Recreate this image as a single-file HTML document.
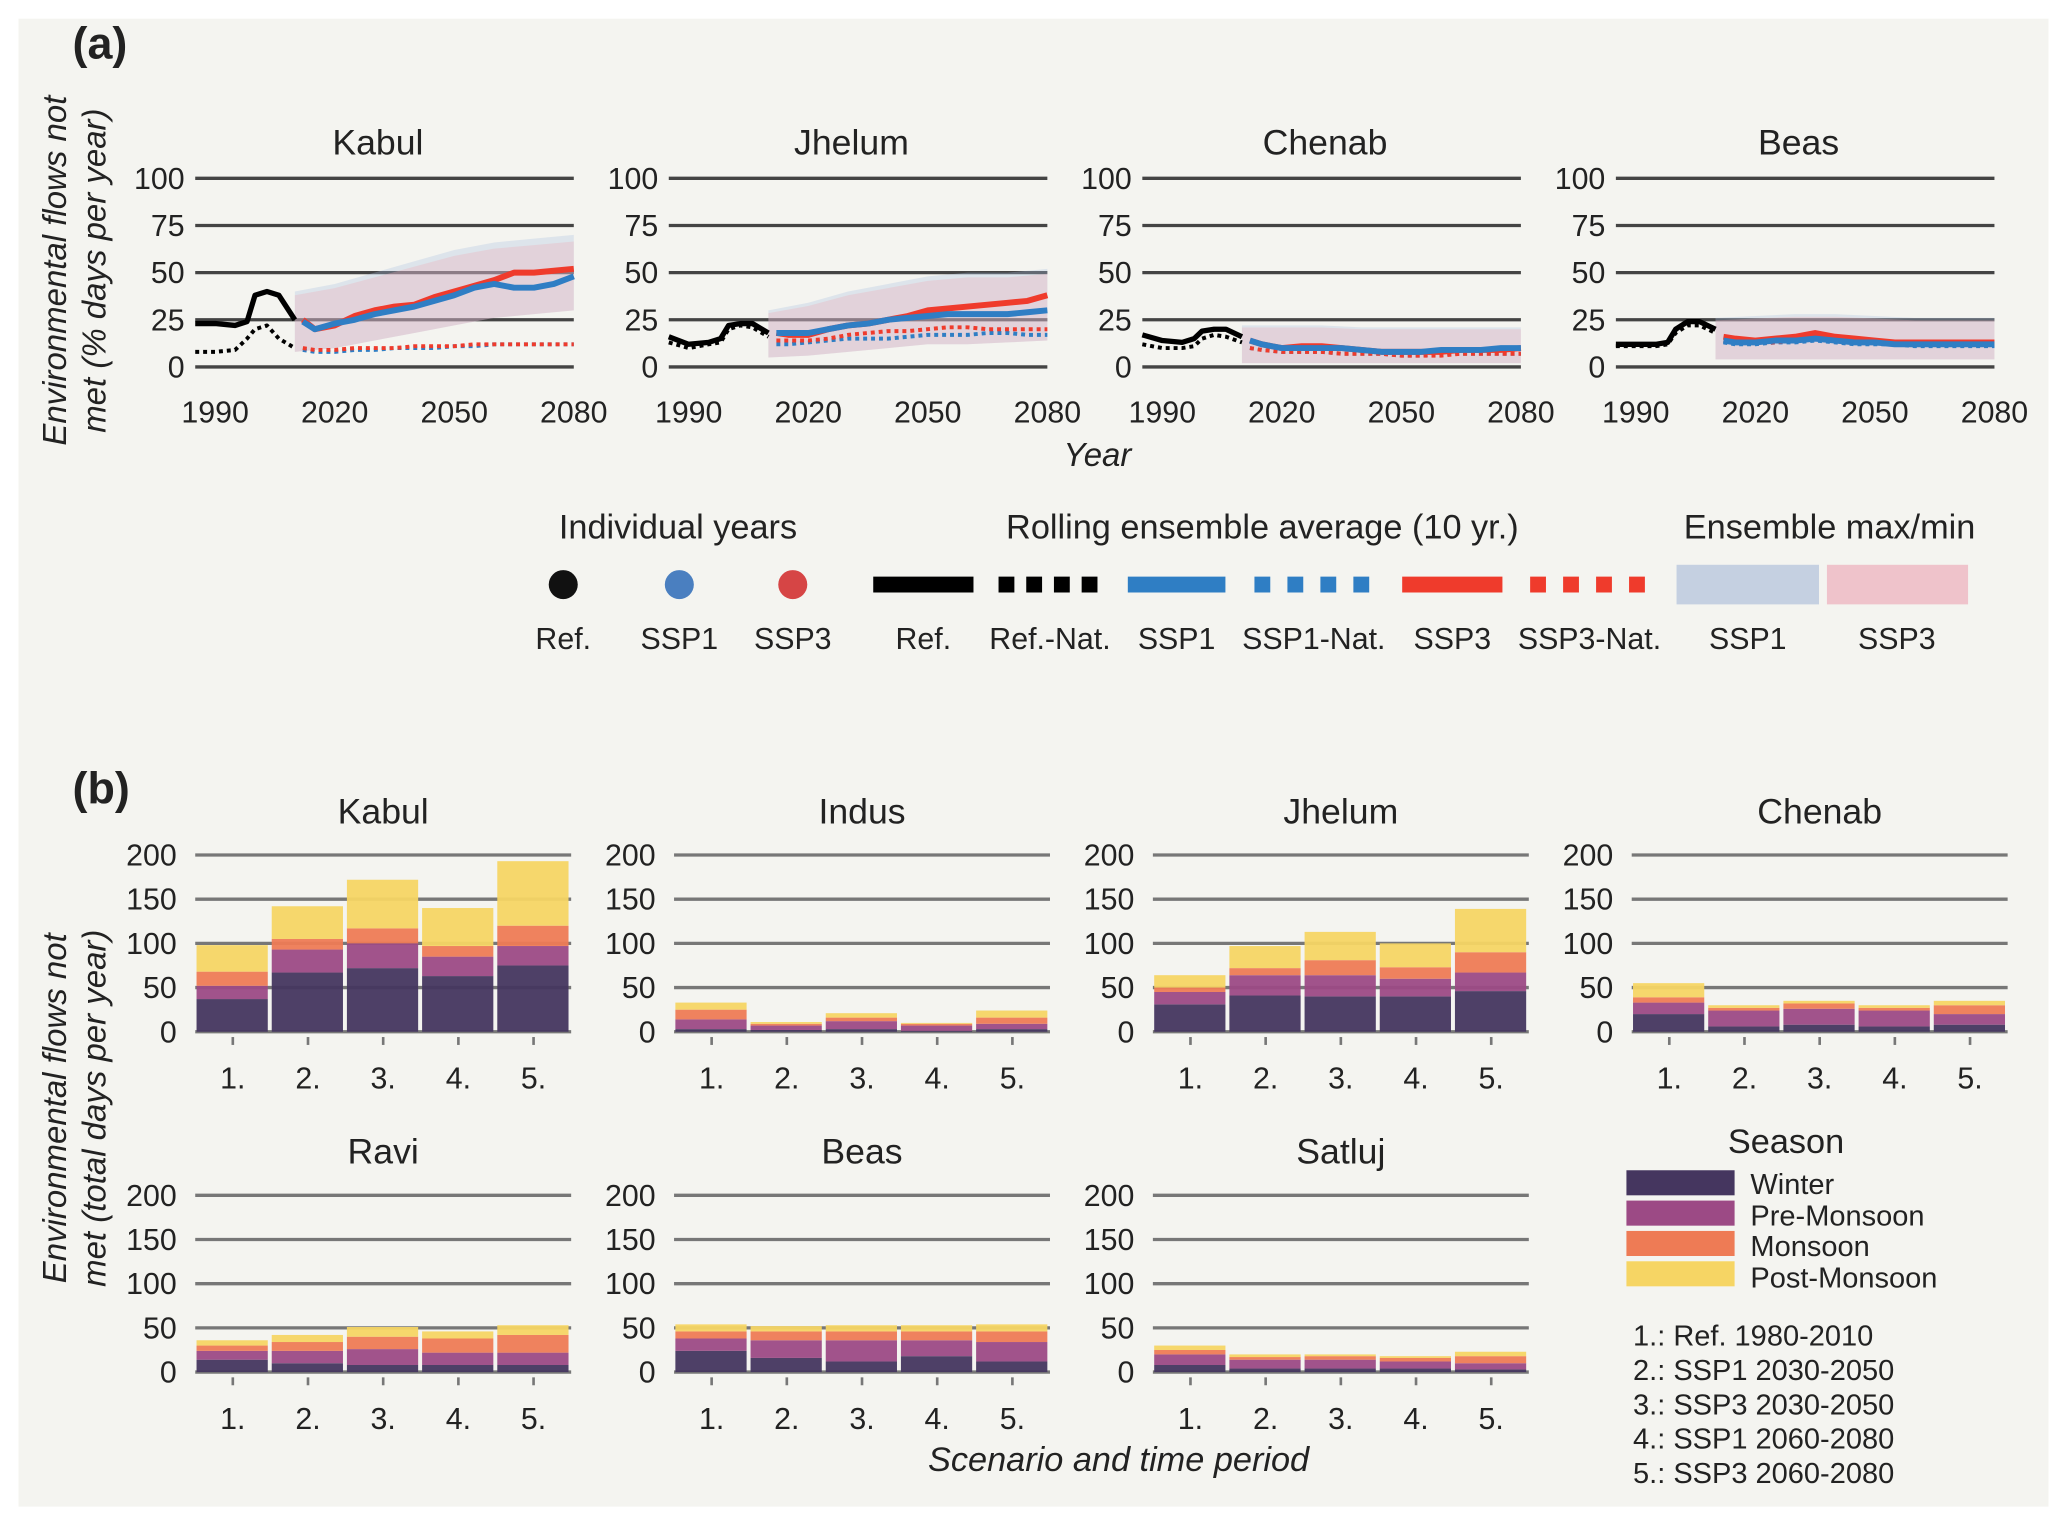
<!DOCTYPE html>
<html><head><meta charset="utf-8"><style>
html,body{margin:0;padding:0;background:#fff}
svg{display:block}
text{font-family:"Liberation Sans",sans-serif;fill:#222}
</style></head><body>
<svg id="fig" width="2067" height="1524" viewBox="0 0 1567 1155" xmlns="http://www.w3.org/2000/svg">
<rect x="0" y="0" width="1567" height="1155" fill="#ffffff"/>
<rect x="14" y="14" width="1539" height="1128" fill="#f4f4f0"/>
<text x="55" y="44" font-size="34" font-weight="bold">(a)</text>
<text x="55" y="609" font-size="34" font-weight="bold">(b)</text>
<g transform="translate(50,205) rotate(-90)" font-size="25" font-style="italic" text-anchor="middle"><text x="0" y="0">Environmental flows not</text><text x="0" y="30">met (% days per year)</text></g>
<text x="832" y="353" font-size="25" font-style="italic" text-anchor="middle">Year</text>
<g transform="translate(50,840) rotate(-90)" font-size="25" font-style="italic" text-anchor="middle"><text x="0" y="0">Environmental flows not</text><text x="0" y="30">met (total days per year)</text></g>
<text x="848" y="1115" font-size="26" font-style="italic" text-anchor="middle">Scenario and time period</text>

<g font-size="23" text-anchor="middle">
<text x="514" y="408" font-size="26">Individual years</text>
<text x="957" y="408" font-size="26">Rolling ensemble average (10 yr.)</text>
<text x="1387" y="408" font-size="26">Ensemble max/min</text>
<circle cx="427" cy="443" r="11" fill="#111"/>
<circle cx="515" cy="443" r="11" fill="#4a7fc0"/>
<circle cx="601" cy="443" r="11" fill="#d64545"/>
<line x1="662" y1="443" x2="738" y2="443" stroke="#000" stroke-width="12"/>
<line x1="757" y1="443" x2="834" y2="443" stroke="#000" stroke-width="12" stroke-dasharray="12 9"/>
<line x1="855" y1="443" x2="929" y2="443" stroke="#2f7ec4" stroke-width="12"/>
<line x1="951" y1="443" x2="1040" y2="443" stroke="#2f7ec4" stroke-width="12" stroke-dasharray="12 13"/>
<line x1="1063" y1="443" x2="1139" y2="443" stroke="#ef3b2c" stroke-width="12"/>
<line x1="1160" y1="443" x2="1250" y2="443" stroke="#ef3b2c" stroke-width="12" stroke-dasharray="12 13"/>
<rect x="1271" y="428" width="108" height="30" fill="#c5d0e1"/>
<rect x="1385" y="428" width="107" height="30" fill="#efc3cb"/>
<text x="427" y="492">Ref.</text><text x="515" y="492">SSP1</text><text x="601" y="492">SSP3</text>
<text x="700" y="492">Ref.</text><text x="796" y="492">Ref.-Nat.</text><text x="892" y="492">SSP1</text>
<text x="996" y="492">SSP1-Nat.</text><text x="1101" y="492">SSP3</text><text x="1205" y="492">SSP3-Nat.</text>
<text x="1325" y="492">SSP1</text><text x="1438" y="492">SSP3</text>
</g>

<g font-size="22">
<text x="1354" y="874" font-size="26" text-anchor="middle">Season</text>
<rect x="1233" y="887" width="82" height="19" fill="#45365f"/>
<rect x="1233" y="910" width="82" height="19" fill="#9c4a85"/>
<rect x="1233" y="933" width="82" height="19" fill="#ee7b55"/>
<text x="1327" y="905">Winter</text><text x="1327" y="929">Pre-Monsoon</text><text x="1327" y="952">Monsoon</text>
<rect x="1233" y="956" width="82" height="19" fill="#f6d564"/>
<text x="1327" y="976">Post-Monsoon</text>
<text x="1238" y="1020">1.: Ref. 1980-2010</text>
<text x="1238" y="1046">2.: SSP1 2030-2050</text>
<text x="1238" y="1072">3.: SSP3 2030-2050</text>
<text x="1238" y="1098">4.: SSP1 2060-2080</text>
<text x="1238" y="1124">5.: SSP3 2060-2080</text>
</g>
<g id="charts"></g>
</svg>
<script>
// ---------- Panel (a) data ----------
const basinsA = ["Kabul","Jhelum","Chenab","Beas"];
const refYears = [1985,1990,1995,1998,2000,2003,2006,2010];
const refKabul = [23,23,22,24,38,40,38,25];
const refNatKabul = [8,8,9,15,20,22,15,10];
const refJhelum = [16,12,13,15,22,23,23,18];
const refNatJhelum = [13,10,12,13,20,22,21,16];
const refChenab = [17,14,13,15,19,20,20,16];
const refNatChenab = [12,10,10,11,15,17,16,13];
const refBeas = [12,12,12,13,20,24,24,20];
const refNatBeas = [11,11,11,12,18,22,22,18];
const sspYears = [2012,2015,2020,2025,2030,2035,2040,2045,2050,2055,2060,2065,2070,2075,2080];
const ssp3Kabul = [25,20,22,27,30,32,33,37,40,43,46,50,50,51,52];
const ssp1Kabul = [24,20,23,25,28,30,32,35,38,42,44,42,42,44,48];
const ssp3NatKabul = [10,9,9,10,10,10,11,11,11,12,12,12,12,12,12];
const ssp1NatKabul = [9,8,8,9,9,10,10,10,11,11,12,12,12,12,12];
const ssp3Jhelum = [18,17,17,20,22,23,25,27,30,31,32,33,34,35,38];
const ssp1Jhelum = [18,18,18,20,22,23,25,26,27,28,28,28,28,29,30];
const ssp3NatJhelum = [14,14,14,15,17,18,19,19,20,21,21,20,20,20,20];
const ssp1NatJhelum = [12,12,13,14,15,15,15,16,17,17,17,18,18,17,17];
const ssp3Chenab = [14,12,10,11,11,10,9,8,8,8,8,9,9,9,10];
const ssp1Chenab = [14,12,10,10,10,10,9,8,8,8,9,9,9,10,10];
const ssp3NatChenab = [10,9,8,8,8,7,7,7,6,6,6,7,7,7,7];
const ssp1NatChenab = [10,9,8,8,8,7,7,7,6,6,7,7,7,7,7];
const ssp3Beas = [16,15,14,15,16,18,16,15,14,13,13,13,13,13,13];
const ssp1Beas = [14,13,13,14,14,15,14,13,13,12,12,12,12,12,12];
const ssp3NatBeas = [14,13,13,13,14,15,14,13,13,12,12,12,12,12,12];
const ssp1NatBeas = [13,12,12,13,13,14,13,12,12,12,11,11,11,11,11];
const bandYears = [2010,2020,2030,2040,2050,2060,2070,2080];
const bandHiKabul = [40,44,50,56,62,66,68,70];
const bandLoKabul = [8,10,14,18,22,26,28,30];
const bandHiJhelum = [30,34,40,44,48,50,50,52];
const bandLoJhelum = [5,6,8,10,12,12,13,14];
const bandHiChenab = [22,22,22,21,21,21,21,21];
const bandLoChenab = [2,2,2,2,2,2,2,2];
const bandHiBeas = [26,27,28,28,27,26,26,26];
const bandLoBeas = [4,4,4,4,4,4,4,4];
const ticksA = [0,25,50,75,100];
const yearTicks = [1990,2020,2050,2080];

const seriesA = {
 Kabul:[refKabul,refNatKabul,ssp1Kabul,ssp1NatKabul,ssp3Kabul,ssp3NatKabul,bandHiKabul,bandLoKabul],
 Jhelum:[refJhelum,refNatJhelum,ssp1Jhelum,ssp1NatJhelum,ssp3Jhelum,ssp3NatJhelum,bandHiJhelum,bandLoJhelum],
 Chenab:[refChenab,refNatChenab,ssp1Chenab,ssp1NatChenab,ssp3Chenab,ssp3NatChenab,bandHiChenab,bandLoChenab],
 Beas:[refBeas,refNatBeas,ssp1Beas,ssp1NatBeas,ssp3Beas,ssp3NatBeas,bandHiBeas,bandLoBeas]
};

// ---------- Panel (b) data ----------
const basinsB = ["Kabul","Indus","Jhelum","Chenab","Ravi","Beas","Satluj"];
const categoriesB = ["1.","2.","3.","4.","5."];
const seasons = ["Winter","Pre-Monsoon","Monsoon","Post-Monsoon"];
const winter = {Kabul:[37,67,72,63,75],Indus:[3,2,3,1,3],Jhelum:[31,41,40,40,46],Chenab:[20,6,8,6,8],Ravi:[14,10,8,8,8],Beas:[24,16,12,18,12],Satluj:[8,4,4,4,3]};
const preMonsoon = {Kabul:[15,26,28,22,22],Indus:[11,5,9,6,6],Jhelum:[14,23,24,20,21],Chenab:[13,18,18,18,12],Ravi:[10,14,18,14,14],Beas:[14,20,24,18,22],Satluj:[12,10,10,8,7]};
const monsoon = {Kabul:[16,12,17,12,23],Indus:[11,2,4,2,7],Jhelum:[5,8,17,13,23],Chenab:[6,3,6,3,10],Ravi:[6,10,14,16,20],Beas:[8,10,10,10,12],Satluj:[5,3,4,4,8]};
const postMonsoon = {Kabul:[30,37,55,43,73],Indus:[8,2,5,1,8],Jhelum:[14,25,32,27,49],Chenab:[16,3,3,3,5],Ravi:[6,8,11,8,11],Beas:[8,6,7,7,8],Satluj:[5,3,2,2,5]};
const ticksB = [0,50,100,150,200];

const NS = "http://www.w3.org/2000/svg";
const root = document.getElementById("charts");
function mk(tag, attrs, parent){const e=document.createElementNS(NS,tag);for(const k in attrs)e.setAttribute(k,attrs[k]);(parent||root).appendChild(e);return e;}

// ---- draw panel (a)
basinsA.forEach((b,i)=>{
  const x0 = 148 + i*359, x1 = x0+287, yTop=135, yBot=278;
  const g = mk("g",{});
  
  
  const xs = yr => x0 + (yr-1985)/(2080-1985)*(x1-x0);
  const ys = v => yBot - v/100*(yBot-yTop);
  const t = mk("text",{x:(x0+x1)/2-5,y:117,"font-size":27,"text-anchor":"middle"},g); t.textContent=b;
  
  
  ticksA.forEach(v=>{
    const l = mk("line",{x1:x0,x2:x1,y1:ys(v),y2:ys(v),stroke:"#444","stroke-width":2.5},g);
    
    
    const tl = mk("text",{x:x0-8,y:ys(v)+8,"font-size":23,"text-anchor":"end",fill:"#444"},g); tl.textContent=v;
    
    
  });
  yearTicks.forEach(yr=>{
    const tl = mk("text",{x:xs(yr),y:320,"font-size":23,"text-anchor":"middle",fill:"#444"},g); tl.textContent=yr;
    
    
  });
  const s = seriesA[b];
  const band = (hi,lo,fill)=>{
    let d = hi.map((v,k)=>(k?"L":"M")+xs(bandYears[k])+","+ys(v)).join("");
    d += lo.slice().reverse().map((v,k)=>"L"+xs(bandYears[bandYears.length-1-k])+","+ys(v)).join("")+"Z";
    return mk("path",{d:d,fill:fill,opacity:0.3},g);
  };
  const b1 = band(s[6],s[7],"#a9bfe0");
  
  
  const b3 = band(s[6].map(v=>v*0.95),s[7],"#f0a9b2");
  
  
  const line = (yrs,vals,col,w,dash)=>{
    const d = vals.map((v,k)=>(k?"L":"M")+xs(yrs[k])+","+ys(v)).join("");
    const p = mk("path",{d:d,fill:"none",stroke:col,"stroke-width":w,"stroke-linejoin":"round"},g);
    if(dash)p.setAttribute("stroke-dasharray",dash);
    return p;
  };
  const a1=line(refYears,s[1],"#000",3,"3 3");  
  const a2=line(refYears,s[0],"#000",4);  
  const a3=line(sspYears,s[3],"#2f7ec4",3,"3 3");  
  const a4=line(sspYears,s[5],"#ef3b2c",3,"3 3");  
  const a5=line(sspYears,s[4],"#ef3b2c",4.5);  
  const a6=line(sspYears,s[2],"#2f7ec4",4.5);  
});

// ---- draw panel (b)
const colsB = ["#45365f","#9c4a85","#ee7b55","#f6d564"];
const seasonData = [winter,preMonsoon,monsoon,postMonsoon];
basinsB.forEach((b,i)=>{
  const row = i<4?0:1, col = i<4?i:i-4;
  const x0 = 148 + col*363, x1 = x0+285;
  const yTop = row?906:648, yBot = row?1040:782;
  const g = mk("g",{});
  
  
  const ys = v => yBot - v/200*(yBot-yTop);
  const step = (x1-x0)/categoriesB.length;
  const t = mk("text",{x:(x0+x1)/2,y:yTop-24,"font-size":27,"text-anchor":"middle"},g); t.textContent=b;
  
  
  ticksB.forEach(v=>{
    const l = mk("line",{x1:x0,x2:x1,y1:ys(v),y2:ys(v),stroke:"#777","stroke-width":2.5},g);
    
    
    const tl = mk("text",{x:x0-14,y:ys(v)+8,"font-size":23,"text-anchor":"end",fill:"#444"},g); tl.textContent=v;
    
    
  });
  categoriesB.forEach((c,k)=>{
    const cx = x0 + step*(k+0.5);
    let acc = 0;
    seasonData.forEach((sd,si)=>{
      const v = sd[b][k];
      const r = mk("rect",{x:x0+step*k+1,width:step-3,y:ys(acc+v),height:ys(acc)-ys(acc+v),fill:colsB[si],opacity:0.95},g);
      
      
      acc += v;
    });
    const tk = mk("line",{x1:cx,x2:cx,y1:yBot+4,y2:yBot+10,stroke:"#777","stroke-width":2},g);
    
    
    const tl = mk("text",{x:cx,y:yBot+43,"font-size":23,"text-anchor":"middle",fill:"#444"},g); tl.textContent=c;
    
    
  });
});
</script>
</body></html>
